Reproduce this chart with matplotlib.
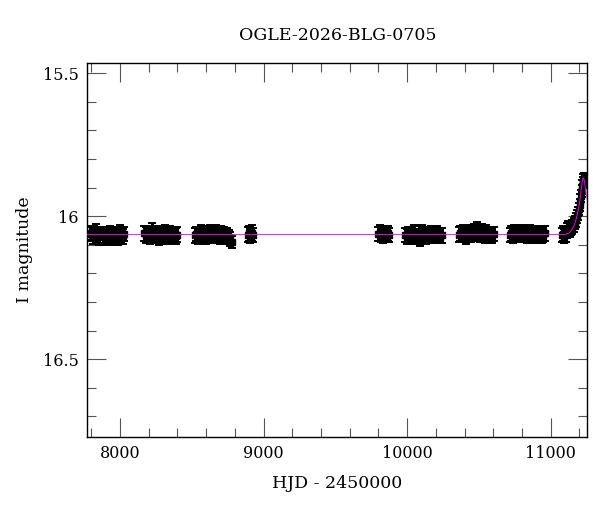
import matplotlib
matplotlib.use("Agg")
import matplotlib.pyplot as plt
from matplotlib.ticker import MultipleLocator

plt.rcParams['font.family'] = ['DejaVu Serif']

TITLE = "OGLE-2026-BLG-0705"

# photometry, one set of arrays per observing season (HJD - 2450000, I mag, error)
hjd_s1 = [7790, 7801, 7812, 7823, 7834, 7845, 7856, 7867, 7878, 7889, 7900, 7911,
          7921, 7932, 7943, 7954, 7965, 7976, 7987, 7998, 8009, 8020, 8030]
mag_s1 = [16.062, 16.058, 16.070, 16.065, 16.055, 16.068, 16.073, 16.060, 16.066, 16.071,
          16.059, 16.064, 16.069, 16.057, 16.072, 16.063, 16.067, 16.061, 16.074, 16.058,
          16.066, 16.070, 16.062]
err_s1 = [0.026, 0.024, 0.028, 0.023, 0.029, 0.025, 0.027, 0.024, 0.026, 0.028, 0.023,
          0.025, 0.027, 0.024, 0.029, 0.026, 0.025, 0.023, 0.028, 0.027, 0.024, 0.026, 0.025]

hjd_s2 = [8170, 8180, 8190, 8200, 8210, 8220, 8230, 8240, 8250, 8260, 8270, 8280,
          8290, 8300, 8310, 8320, 8330, 8340, 8350, 8360, 8370, 8380, 8390, 8400]
mag_s2 = [16.060, 16.066, 16.058, 16.063, 16.070, 16.052, 16.061, 16.068, 16.057, 16.065,
          16.071, 16.059, 16.064, 16.069, 16.056, 16.066, 16.062, 16.070, 16.058, 16.067,
          16.063, 16.061, 16.069, 16.064]
err_s2 = [0.025, 0.027, 0.024, 0.026, 0.028, 0.029, 0.025, 0.027, 0.023, 0.026, 0.028,
          0.024, 0.025, 0.027, 0.024, 0.026, 0.025, 0.028, 0.023, 0.026, 0.025, 0.024,
          0.027, 0.025]

hjd_s3 = [8520, 8531, 8542, 8552, 8563, 8574, 8585, 8596, 8606, 8617, 8628, 8639,
          8650, 8660, 8671, 8682, 8693, 8704, 8714, 8725, 8736, 8747, 8758, 8769, 8780]
mag_s3 = [16.066, 16.061, 16.070, 16.064, 16.058, 16.068, 16.063, 16.071, 16.060, 16.066,
          16.057, 16.069, 16.062, 16.067, 16.059, 16.065, 16.072, 16.061, 16.068, 16.063,
          16.070, 16.066, 16.073, 16.080, 16.090]
err_s3 = [0.026, 0.024, 0.027, 0.025, 0.028, 0.024, 0.026, 0.027, 0.025, 0.023, 0.028,
          0.025, 0.026, 0.024, 0.027, 0.025, 0.026, 0.028, 0.024, 0.025, 0.027, 0.026,
          0.025, 0.024, 0.022]

hjd_s4 = [8890, 8896, 8902, 8908, 8914, 8920, 8925]
mag_s4 = [16.064, 16.060, 16.068, 16.062, 16.066, 16.059, 16.065]
err_s4 = [0.025, 0.027, 0.024, 0.026, 0.025, 0.027, 0.024]

hjd_s5 = [9800, 9808, 9816, 9824, 9832, 9840, 9848, 9856, 9864, 9872]
mag_s5 = [16.063, 16.058, 16.066, 16.061, 16.069, 16.060, 16.064, 16.067, 16.059, 16.065]
err_s5 = [0.025, 0.027, 0.024, 0.026, 0.025, 0.027, 0.026, 0.024, 0.026, 0.025]

hjd_s6 = [9985, 9996, 10006, 10017, 10027, 10038, 10049, 10059, 10070, 10080, 10091,
          10102, 10112, 10123, 10134, 10144, 10155, 10165, 10176, 10187, 10197, 10208,
          10219, 10229, 10240]
mag_s6 = [16.066, 16.071, 16.060, 16.068, 16.063, 16.070, 16.058, 16.067, 16.073, 16.062,
          16.078, 16.057, 16.069, 16.064, 16.070, 16.061, 16.066, 16.059, 16.070, 16.063,
          16.068, 16.060, 16.065, 16.071, 16.066]
err_s6 = [0.025, 0.026, 0.024, 0.027, 0.025, 0.026, 0.028, 0.024, 0.025, 0.027, 0.026,
          0.025, 0.024, 0.026, 0.027, 0.025, 0.024, 0.026, 0.025, 0.027, 0.024, 0.026,
          0.025, 0.024, 0.026]

hjd_s7 = [10360, 10371, 10381, 10392, 10403, 10413, 10424, 10435, 10445, 10456, 10466,
          10477, 10488, 10498, 10509, 10520, 10530, 10541, 10552, 10562, 10573, 10584,
          10594, 10605]
mag_s7 = [16.064, 16.060, 16.067, 16.058, 16.063, 16.069, 16.061, 16.055, 16.066, 16.059,
          16.052, 16.063, 16.048, 16.057, 16.065, 16.054, 16.060, 16.067, 16.058, 16.063,
          16.070, 16.061, 16.066, 16.062]
err_s7 = [0.025, 0.027, 0.024, 0.026, 0.025, 0.027, 0.024, 0.026, 0.025, 0.027, 0.026,
          0.024, 0.027, 0.025, 0.026, 0.028, 0.024, 0.025, 0.027, 0.026, 0.024, 0.025,
          0.026, 0.024]

hjd_s8 = [10715, 10726, 10736, 10747, 10758, 10768, 10779, 10790, 10800, 10811, 10821,
          10832, 10843, 10853, 10864, 10875, 10885, 10896, 10907, 10917, 10928, 10939,
          10949, 10960]
mag_s8 = [16.065, 16.060, 16.068, 16.057, 16.063, 16.058, 16.066, 16.061, 16.055, 16.064,
          16.059, 16.067, 16.062, 16.056, 16.065, 16.060, 16.068, 16.063, 16.058, 16.066,
          16.061, 16.069, 16.064, 16.060]
err_s8 = [0.025, 0.026, 0.024, 0.027, 0.025, 0.026, 0.024, 0.027, 0.025, 0.026, 0.024,
          0.025, 0.027, 0.026, 0.024, 0.025, 0.026, 0.027, 0.024, 0.026, 0.025, 0.024,
          0.026, 0.025]

hjd_s9 = [11080, 11088, 11096, 11104, 11112, 11120, 11126, 11132, 11138, 11144, 11152,
          11160, 11168, 11176, 11184, 11190, 11196, 11202, 11207, 11212, 11216, 11220,
          11223, 11226, 11229, 11232, 11236]
mag_s9 = [16.066, 16.061, 16.068, 16.063, 16.050, 16.042, 16.048, 16.045, 16.047, 16.043,
          16.038, 16.030, 16.022, 16.012, 16.000, 15.990, 15.975, 15.960, 15.945, 15.928,
          15.912, 15.895, 15.882, 15.872, 15.866, 15.868, 15.875]
err_s9 = [0.025, 0.026, 0.024, 0.026, 0.027, 0.025, 0.024, 0.026, 0.025, 0.024, 0.025,
          0.024, 0.023, 0.024, 0.022, 0.023, 0.022, 0.021, 0.022, 0.021, 0.020, 0.021,
          0.020, 0.020, 0.019, 0.020, 0.021]

# microlensing model curve
model_hjd = [7772, 11100, 11130, 11150, 11165, 11180, 11192, 11200, 11208, 11215,
             11220, 11224, 11227, 11230, 11235, 11240, 11245, 11255]
model_mag = [16.064, 16.064, 16.058, 16.045, 16.030, 16.005, 15.977, 15.955, 15.927, 15.895,
             15.878, 15.868, 15.866, 15.868, 15.878, 15.895, 15.915, 15.942]

seasons = [
    (hjd_s1, mag_s1, err_s1), (hjd_s2, mag_s2, err_s2), (hjd_s3, mag_s3, err_s3),
    (hjd_s4, mag_s4, err_s4), (hjd_s5, mag_s5, err_s5), (hjd_s6, mag_s6, err_s6),
    (hjd_s7, mag_s7, err_s7), (hjd_s8, mag_s8, err_s8), (hjd_s9, mag_s9, err_s9),
]

fig = plt.figure(figsize=(6.0, 5.12), dpi=100)
ax = fig.add_axes([0.1455, 0.147, 0.8333, 0.7305])

for hjd, mag, err in seasons:
    ax.errorbar(hjd, mag, yerr=err, fmt='s', color='black', ms=4,
                elinewidth=2.2, capsize=2.6, capthick=1.4)

ax.plot(model_hjd, model_mag, color='magenta', lw=0.65, zorder=5)

ax.set_xlim(7772, 11255)
ax.set_ylim(16.771, 15.463)

ax.xaxis.set_major_locator(MultipleLocator(1000))
ax.xaxis.set_minor_locator(MultipleLocator(200))
ax.yaxis.set_major_locator(MultipleLocator(0.5))
ax.yaxis.set_minor_locator(MultipleLocator(0.1))
ax.yaxis.set_major_formatter(plt.FuncFormatter(lambda v, p: f"{v:g}"))

ax.tick_params(which='both', direction='in', top=True, right=True,
               width=0.8, color='#555555', labelsize=11.5, pad=6)
ax.tick_params(which='major', length=13.5)
ax.tick_params(which='minor', length=6.8)
for s in ax.spines.values():
    s.set_linewidth(1.0)

ax.set_title(TITLE, fontsize=12.5, pad=16)
ax.set_xlabel("HJD - 2450000", fontsize=12.5, labelpad=9)
ax.set_ylabel("I magnitude", fontsize=12.5, labelpad=7)

fig.savefig("out.png", dpi=100)
